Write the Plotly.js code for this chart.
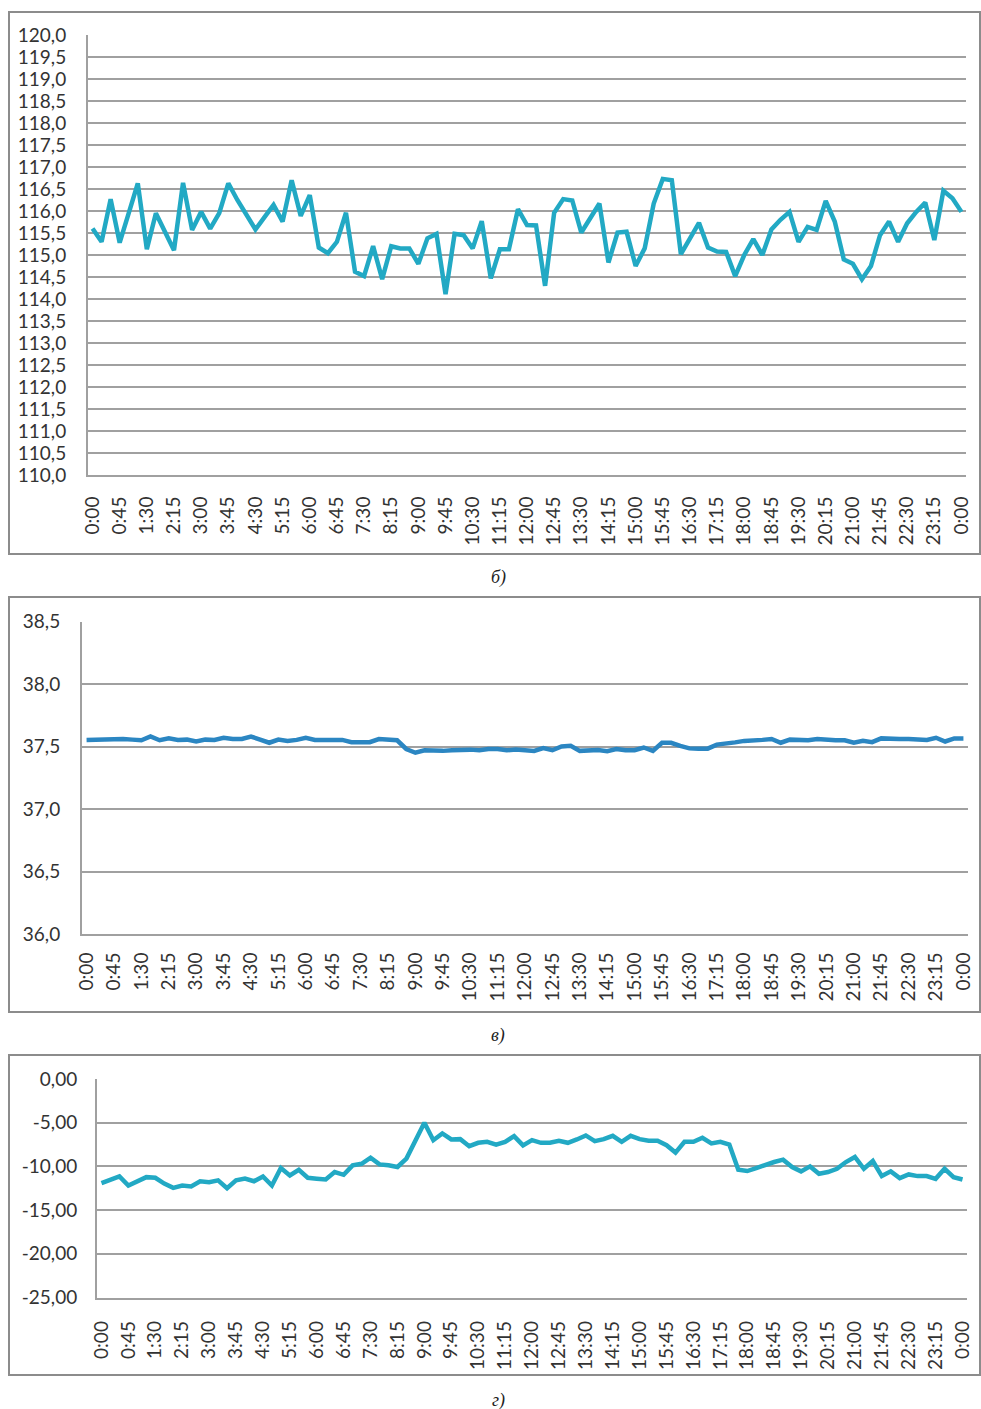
<!DOCTYPE html>
<html>
<head>
<meta charset="utf-8">
<script src="https://cdn.plot.ly/plotly-3.0.1.min.js"></script>
<style>html,body{margin:0;padding:0;background:#fff;}#chart{width:981px;height:1409px;}</style>
</head>
<body>
<div id="chart"></div>
<script>
// Tick labels (every 45 minutes, 97 points at 15-min steps)
const tickLabels = ["0:00","0:45","1:30","2:15","3:00","3:45","4:30","5:15","6:00","6:45","7:30","8:15","9:00","9:45","10:30","11:15","12:00","12:45","13:30","14:15","15:00","15:45","16:30","17:15","18:00","18:45","19:30","20:15","21:00","21:45","22:30","23:15","0:00"];

// Panel б)
const seriesB = [115.6,115.3,116.27,115.28,115.95,116.63,115.13,115.95,115.53,115.11,116.64,115.57,115.98,115.6,115.95,116.63,116.25,115.91,115.58,115.86,116.14,115.76,116.7,115.89,116.36,115.17,115.04,115.3,115.96,114.62,114.52,115.2,114.45,115.2,115.15,115.15,114.8,115.38,115.48,114.11,115.48,115.45,115.15,115.77,114.47,115.13,115.13,116.04,115.68,115.67,114.3,115.96,116.27,116.24,115.51,115.84,116.17,114.83,115.51,115.53,114.75,115.15,116.17,116.73,116.7,115.02,115.38,115.73,115.17,115.08,115.07,114.52,115.0,115.36,115.0,115.58,115.8,115.98,115.3,115.64,115.57,116.23,115.76,114.9,114.8,114.45,114.75,115.45,115.76,115.3,115.72,115.98,116.19,115.34,116.46,116.29,115.98];

// Panel в)
const seriesV = [37.553,37.555,37.56,37.555,37.56,37.555,37.55,37.58,37.55,37.565,37.553,37.555,37.54,37.555,37.553,37.57,37.56,37.56,37.58,37.555,37.53,37.555,37.545,37.553,37.57,37.553,37.555,37.555,37.553,37.535,37.535,37.535,37.56,37.553,37.55,37.48,37.45,37.47,37.465,37.465,37.47,37.475,37.475,37.47,37.48,37.48,37.47,37.475,37.47,37.465,37.487,37.47,37.5,37.505,37.465,37.47,37.472,37.463,37.48,37.47,37.47,37.492,37.465,37.53,37.53,37.505,37.485,37.483,37.483,37.515,37.52,37.533,37.545,37.545,37.553,37.56,37.53,37.555,37.555,37.55,37.56,37.553,37.55,37.55,37.53,37.545,37.535,37.565,37.56,37.56,37.56,37.553,37.553,37.57,37.54,37.565,37.565];

// Panel г)
const seriesG = [-11.92,-11.5,-11.15,-12.19,-11.7,-11.23,-11.3,-11.96,-12.45,-12.19,-12.3,-11.7,-11.8,-11.6,-12.5,-11.6,-11.4,-11.7,-11.15,-12.19,-10.19,-11.04,-10.4,-11.3,-11.4,-11.5,-10.65,-10.96,-9.88,-9.7,-9.0,-9.77,-9.88,-10.07,-9.1,-7.0,-5.0,-7.0,-6.23,-6.92,-6.88,-7.69,-7.3,-7.19,-7.5,-7.19,-6.54,-7.6,-7.0,-7.3,-7.3,-7.07,-7.3,-6.92,-6.46,-7.11,-6.88,-6.5,-7.19,-6.5,-6.88,-7.07,-7.07,-7.58,-8.42,-7.19,-7.19,-6.73,-7.38,-7.19,-7.5,-10.38,-10.53,-10.19,-9.8,-9.5,-9.23,-10.07,-10.57,-10.0,-10.84,-10.65,-10.27,-9.5,-8.92,-10.27,-9.38,-11.11,-10.57,-11.34,-10.92,-11.11,-11.11,-11.42,-10.27,-11.23,-11.5];
const tickValsG = [0, -5, -10, -15, -20, -25];
const tickTextG = ["0,00", "-5,00", "-10,00", "-15,00", "-20,00", "-25,00"];

const captions = ["б)", "в)", "г)"];

const W = 981, H = 1409;
const px = v => v / W;
const py = v => 1 - v / H;

const xIdx = seriesB.map((_, i) => i);
const tickVals = tickLabels.map((_, i) => i * 3);

const fontFam = "Lato, 'Open Sans', sans-serif";
const txtColor = "#333333";
const gridCol = "#a0a0a0";

function xAxis(l, r, anchor, standoff) {
  return {
    domain: [px(l), px(r)], anchor: anchor,
    range: [-0.5, 96.5], tickmode: "array", tickvals: tickVals, ticktext: tickLabels,
    tickangle: -90, showgrid: false, zeroline: false, showline: true, linecolor: gridCol, linewidth: 2,
    ticks: "", ticklabelstandoff: standoff,
    tickfont: {family: fontFam, size: 19, color: txtColor}, fixedrange: true
  };
}
function yAxis(t, b, anchor, range, dtick, fmt, standoff) {
  return {
    domain: [py(b), py(t)], anchor: anchor,
    range: range, dtick: dtick, tick0: range[0], tickformat: fmt,
    showgrid: true, gridcolor: gridCol, gridwidth: 2, zeroline: false,
    showline: true, linecolor: gridCol, linewidth: 2, ticks: "", ticklabelstandoff: standoff,
    tickfont: {family: fontFam, size: 19, color: txtColor}, fixedrange: true
  };
}

const data = [
  {x: xIdx, y: seriesB, type: "scatter", mode: "lines", xaxis: "x", yaxis: "y",
   line: {color: "#22a9c4", width: 4.5}, hoverinfo: "skip"},
  {x: xIdx, y: seriesV, type: "scatter", mode: "lines", xaxis: "x2", yaxis: "y2",
   line: {color: "#2b86c2", width: 4.5}, hoverinfo: "skip"},
  {x: xIdx, y: seriesG, type: "scatter", mode: "lines", xaxis: "x3", yaxis: "y3",
   line: {color: "#22a9c4", width: 4.5}, hoverinfo: "skip"}
];

const frames = [[9, 12, 980, 554], [9, 597, 980, 1012], [9, 1055, 980, 1375]];
const shapes = frames.map(f => ({
  type: "rect", xref: "paper", yref: "paper",
  x0: px(f[0]), x1: px(f[2]), y0: py(f[3]), y1: py(f[1]),
  line: {color: "#8c8c8c", width: 2}, fillcolor: "rgba(0,0,0,0)", layer: "below"
}));

const capY = [578, 1035, 1400];
const annotations = captions.map((c, i) => ({
  text: "<i>" + c + "</i>", xref: "paper", yref: "paper", x: px(498), y: py(capY[i]),
  xanchor: "center", yanchor: "middle", showarrow: false,
  font: {family: "'Liberation Serif', 'DejaVu Serif', serif", size: 18, color: "#222"}
}));

const yG = yAxis(1079, 1297.5, "x3", [-25, 0], 5, ".2f", 14);
yG.tickmode = "array"; yG.tickvals = tickValsG; yG.ticktext = tickTextG;

const layout = {
  width: W, height: H, margin: {l: 0, r: 0, t: 0, b: 0},
  paper_bgcolor: "#fff", plot_bgcolor: "#fff", showlegend: false,
  separators: ", ",
  xaxis: xAxis(88, 966, "y", 12),
  yaxis: yAxis(35, 475, "x", [110, 120], 0.5, ".1f", 16),
  xaxis2: xAxis(82, 968, "y2", 9),
  yaxis2: yAxis(621.5, 934, "x2", [36, 38.5], 0.5, ".1f", 16),
  xaxis3: xAxis(97, 967, "y3", 14),
  yaxis3: yG,
  shapes: shapes, annotations: annotations
};

Plotly.newPlot("chart", data, layout, {displayModeBar: false, staticPlot: true});
</script>
</body>
</html>
